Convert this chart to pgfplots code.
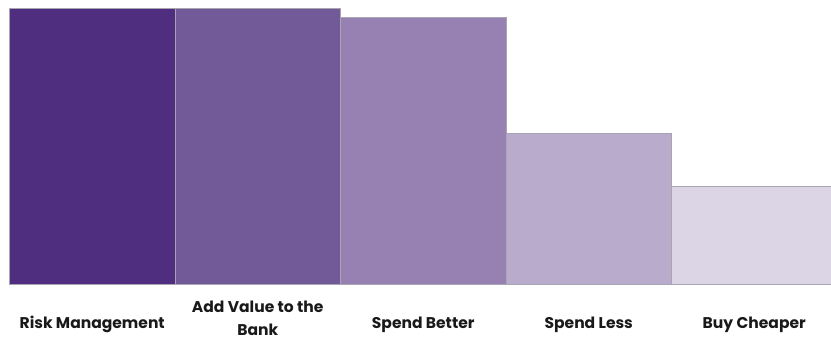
\documentclass[border=0pt]{standalone}
\usepackage{pgfplots}
\pgfplotsset{compat=1.18}
\usepackage{fontspec}
\setmainfont{Poppins}
\definecolor{c1}{HTML}{4F2D7F}
\definecolor{c2}{HTML}{725998}
\definecolor{c3}{HTML}{9681B2}
\definecolor{c4}{HTML}{B9ABCB}
\definecolor{c5}{HTML}{DCD5E5}
\definecolor{edge}{HTML}{A9A4B2}
\begin{document}
\begin{tikzpicture}
\clip (0,0) rectangle (831bp,338bp);
\begin{axis}[at={(9.5bp,53.5bp)}, anchor=south west, scale only axis,
  width=827.5bp, height=276.2bp,
  xmin=-0.5, xmax=4.5, ymin=0, ymax=100,
  ybar, bar width=1, bar shift=0pt,
  axis line style={draw=none}, ytick=\empty,
  xtick={0,1,2,3,4},
  xticklabels={Risk Management,{\raisebox{-7.2bp}{\shortstack{Add Value to the\\[8.6bp]Bank}}},Spend Better,Spend Less,Buy Cheaper},
  major tick length=0pt, clip=false,
  xticklabel style={anchor=base, yshift=-43.8bp, inner sep=0pt, text=black!90, font=\bfseries\fontsize{15.6}{21.2}\selectfont},
  every axis plot/.append style={draw=edge, line width=0.6bp}]
\addplot[fill=c1] coordinates {(0,100)};
\addplot[fill=c2] coordinates {(1,100)};
\addplot[fill=c3] coordinates {(2,96.7)};
\addplot[fill=c4] coordinates {(3,54.6)};
\addplot[fill=c5] coordinates {(4,35.6)};
\end{axis}
\end{tikzpicture}
\end{document}
